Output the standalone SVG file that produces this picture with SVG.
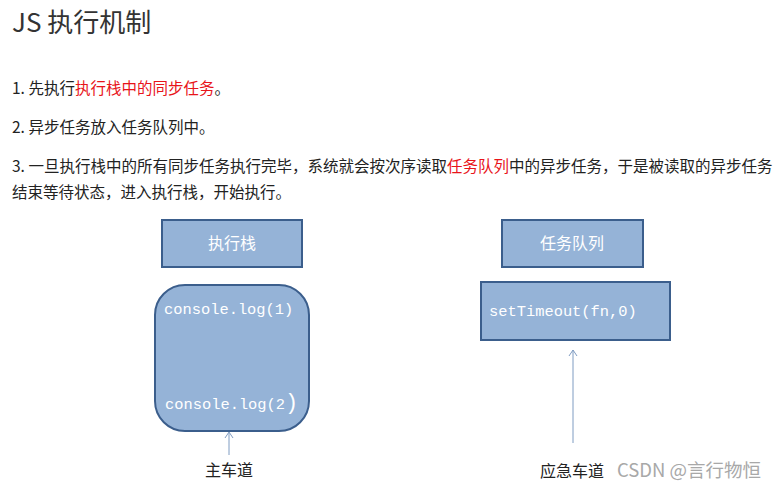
<svg xmlns="http://www.w3.org/2000/svg" width="784" height="491" viewBox="0 0 784 491">
<style>
.t{font-family:"Noto Sans CJK SC","Noto Sans",sans-serif;fill:#222;font-size:15.5px}
.r{fill:#e8141a}
.box{fill:#95b3d7;stroke:#3b5e8c;stroke-width:2}
.lbl{font-family:"Noto Sans CJK SC",sans-serif;fill:#fff;font-size:16px;text-anchor:middle}
.code{font-family:"Liberation Mono","DejaVu Sans Mono",monospace;fill:#fff;font-size:15.4px}
.arr{stroke:#7f9cc2;stroke-width:1;fill:none}
</style>
<rect width="784" height="491" fill="#fff"/>
<text x="12" y="32" style="font-family:'Noto Sans CJK SC','Open Sans',sans-serif;font-size:26px;fill:#333">JS 执行机制</text>
<text class="t" x="12" y="94">1. 先执行<tspan class="r">执行栈中的同步任务</tspan>。</text>
<text class="t" x="12" y="133">2. 异步任务放入任务队列中。</text>
<text class="t" x="12" y="172">3. 一旦执行栈中的所有同步任务执行完毕，系统就会按次序读取<tspan class="r">任务队列</tspan>中的异步任务，于是被读取的异步任务</text>
<text class="t" x="12" y="198">结束等待状态，进入执行栈，开始执行。</text>
<g id="stack-title">
<rect class="box" x="162" y="220" width="140" height="47"/>
<text class="lbl" x="232" y="249">执行栈</text>
</g>
<g id="stack">
<rect class="box" x="155" y="285" width="154" height="146" rx="30"/>
<text class="code" x="164" y="314">console.log(1)</text>
<text class="code" x="165" y="409">console.log(2<tspan style="font-size:22px">)</tspan></text>
</g>
<g id="queue-title">
<rect class="box" x="502" y="220" width="141" height="47"/>
<text class="lbl" x="572" y="249">任务队列</text>
</g>
<g id="queue">
<rect class="box" x="481" y="282" width="189" height="58"/>
<text class="code" x="489" y="316">setTimeout(fn,0)</text>
</g>
<g id="connectors">
<path class="arr" d="M229 455V433M225 438L229 432L233 438"/>
<path class="arr" d="M573 443V350M569 356L573 350L577 356"/>
</g>
<text class="t" x="229" y="476" text-anchor="middle" style="font-size:16px">主车道</text>
<text class="t" x="540" y="477" style="font-size:16px">应急车道</text>
<text x="617" y="477" style="font-family:'Noto Sans CJK SC',sans-serif;font-size:18.5px;fill:#a8a8a8">CSDN @言行物恒</text>
</svg>
